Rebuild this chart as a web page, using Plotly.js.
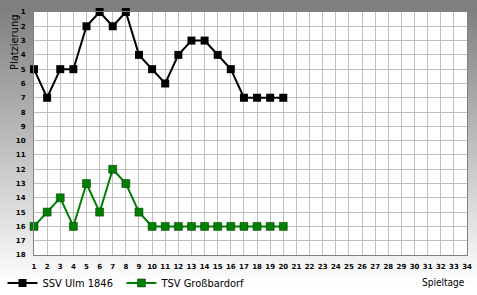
<!DOCTYPE html>
<html><head><meta charset="utf-8">
<script src="https://cdn.plot.ly/plotly-3.0.1.min.js"></script>
<style>
html,body{margin:0;padding:0;}
#wrap{width:477px;height:295px;background:linear-gradient(to bottom,#7f7f7f 0px,#7f7f7f 8px,#ffffff 285px);}
#chart{width:477px;height:295px;}
</style></head>
<body><div id="wrap"><div id="chart"></div></div>
<script>
const spieltage = [1,2,3,4,5,6,7,8,9,10,11,12,13,14,15,16,17,18,19,20];
const ulm = [5,7,5,5,2,1,2,1,4,5,6,4,3,3,4,5,7,7,7,7];
const grossbardorf = [16,15,14,16,13,15,12,13,15,16,16,16,16,16,16,16,16,16,16,16];
const xTicks = Array.from({length:34},(_,i)=>i+1);
const yTicks = Array.from({length:18},(_,i)=>i+1);
const seriesNames = ['SSV Ulm 1846','TSV Großbardorf'];

const tickFont = {family:'DejaVu Sans', size:7, color:'#000', weight:'bold'};
const legFont = {family:'Liberation Sans Narrow, DejaVu Sans Condensed, Liberation Sans', size:11, color:'#000'};
const traces = [
  {x:spieltage, y:ulm, name:seriesNames[0], type:'scatter', mode:'lines+markers', cliponaxis:false, legend:'legend',
   line:{color:'#000000', width:2}, marker:{symbol:'square', size:8, color:'#000000'}},
  {x:spieltage, y:grossbardorf, name:seriesNames[1], type:'scatter', mode:'lines+markers', cliponaxis:false, legend:'legend2',
   line:{color:'#008000', width:2}, marker:{symbol:'square', size:8, color:'#008000', line:{color:'#003000', width:0.5}}}
];
const legBase = {orientation:'h', xanchor:'left', y:-0.115, yanchor:'middle', font:legFont, bgcolor:'rgba(0,0,0,0)', itemwidth:30};
const layout = {
  width:477, height:295,
  margin:{l:34, r:10, t:12, b:40, autoexpand:false},
  paper_bgcolor:'rgba(0,0,0,0)', plot_bgcolor:'#ffffff',
  showlegend:true,
  legend:Object.assign({}, legBase, {x:-0.0727}),
  legend2:Object.assign({}, legBase, {x:0.202}),
  xaxis:{range:[1,34], tickvals:xTicks, ticktext:xTicks.map(String), showgrid:true, gridcolor:'#c0c0c0', gridwidth:1,
         showline:true, linecolor:'#808080', linewidth:1, mirror:true, zeroline:false,
         ticks:'outside', ticklen:5, tickcolor:'rgba(0,0,0,0)', tickfont:tickFont},
  yaxis:{range:[18,1], tickvals:yTicks, ticktext:yTicks.map(String), showgrid:true, gridcolor:'#c0c0c0', gridwidth:1,
         showline:true, linecolor:'#808080', linewidth:1, mirror:true, zeroline:false,
         ticks:'', ticklabelstandoff:6, tickfont:tickFont},
  annotations:[
    {text:'Platzierung', xref:'paper', yref:'paper', x:-0.046, y:1.0, xanchor:'center', yanchor:'top', textangle:-90,
     showarrow:false, font:legFont},
    {text:'Spieltage', xref:'paper', yref:'paper', x:1, y:-0.115, xanchor:'right', yanchor:'middle',
     showarrow:false, font:{family:'Liberation Sans Narrow, DejaVu Sans Condensed, Liberation Sans', size:10, color:'#000'}}
  ]
};
Plotly.newPlot('chart', traces, layout, {displayModeBar:false, staticPlot:true});
</script></body></html>
